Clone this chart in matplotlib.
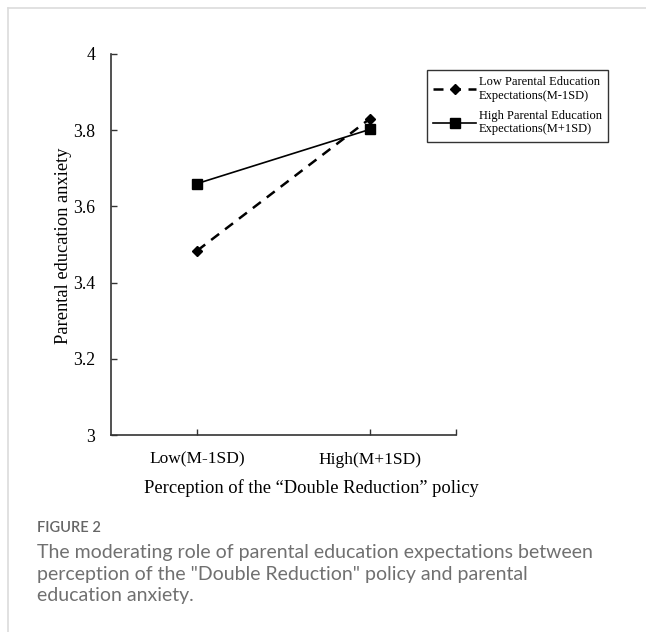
import matplotlib.pyplot as plt
import matplotlib.lines as mlines

# data
categories = ['Low(M-1SD)', 'High(M+1SD)']
cat_pos = [0.25, 0.75]
low_expect = [3.484, 3.830]
high_expect = [3.660, 3.802]
low_label = 'Low Parental Education\nExpectations(M-1SD)'
high_label = 'High Parental Education\nExpectations(M+1SD)'
yticks = [3, 3.2, 3.4, 3.6, 3.8, 4]
ytick_labels = ['3', '3.2', '3.4', '3.6', '3.8', '4']
caption_lines = ['The moderating role of parental education expectations between',
                 'perception of the "Double Reduction" policy and parental',
                 'education anxiety.']

serif = ['Liberation Serif', 'DejaVu Serif']

fig = plt.figure(figsize=(6.46, 6.32), dpi=100)

# page card border (left and top)
fig.add_artist(mlines.Line2D([7.5/646, 7.5/646], [0, 1 - 8/632], color='#dcdcdc', lw=1.2))
fig.add_artist(mlines.Line2D([7.5/646, 1], [1 - 8/632, 1 - 8/632], color='#dcdcdc', lw=1.2))

ax = fig.add_axes([111/646, 1 - 435/632, (456 - 111)/646, (435 - 54)/632])

ax.plot(cat_pos, low_expect, color='black', lw=1.8, ls=(0, (4, 3)),
        marker='D', ms=5.5, label=low_label)
ax.plot(cat_pos, high_expect, color='black', lw=1.2, ls='-',
        marker='s', ms=7.5, label=high_label)

ax.set_xlim(0, 1)
ax.set_ylim(3, 4)
ax.set_yticks(yticks)
ax.set_yticklabels(ytick_labels, family=serif, fontsize=12.7)
ax.set_xticks(cat_pos)
ax.set_xticklabels(categories, family=serif, fontsize=12.5)
ax.set_xticks([1.0], minor=True)
ax.tick_params(direction='in', length=4, width=1, color='#333333')
ax.tick_params(which='minor', direction='in', length=4, width=1, color='#333333')
ax.tick_params(axis='y', pad=11.5)
ax.tick_params(axis='x', pad=12)

for s in ['top', 'right']:
    ax.spines[s].set_visible(False)
for s in ['left', 'bottom']:
    ax.spines[s].set_linewidth(1.2)
    ax.spines[s].set_color('#333333')

ax.set_ylabel('Parental education anxiety', family=serif, fontsize=13.3)
ax.yaxis.set_label_coords(-0.112, 0.497)
ax.set_xlabel('Perception of the \u201cDouble Reduction\u201d policy', family=serif,
              fontsize=13.3)
ax.xaxis.set_label_coords(0.58, -0.115)

leg = ax.legend(loc='upper left', bbox_to_anchor=(427/646, 1 - 70/632),
                bbox_transform=fig.transFigure, borderaxespad=0,
                prop={'family': serif, 'size': 9.0},
                frameon=True, fancybox=False, edgecolor='black', handlelength=3.4,
                borderpad=0.5, labelspacing=0.6, handletextpad=0.25)
leg.get_frame().set_linewidth(1.0)

fig.text(37/646, 1 - 532/632, 'FIGURE 2', family='Lato', fontsize=10.5,
         weight='semibold', color='#666666', va='baseline', ha='left')
for i, line in enumerate(caption_lines):
    fig.text(37/646, 1 - (558 + 21.6 * i)/632, line, family='Lato', fontsize=14,
             color='#707070', va='baseline', ha='left')

fig.savefig('out.png', dpi=100)
